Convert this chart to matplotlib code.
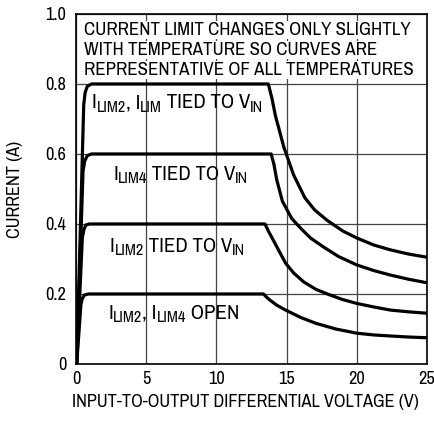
#!/usr/bin/env python3
"""Current limit vs input-to-output differential voltage, four ILIM settings."""

import matplotlib

matplotlib.use("Agg")
import matplotlib.pyplot as plt
from matplotlib.transforms import offset_copy

FONT = ["Archivo Narrow", "Roboto Condensed", "DejaVu Sans"]
plt.rcParams["font.family"] = FONT

FS = 13.2         # axis / tick text size
NOTE_FS = 13.6    # boxed note size
LABEL_FS = 15.0   # curve label size
SUB_FS = 11.6     # subscript size
SUB_DROP = 3.6    # subscript drop, pixels

# --- data (V, A) ---
V_800 = [0.05, 0.55, 0.65, 0.8, 1.1, 13.7, 13.95, 14.2, 14.8, 15.5, 16.3, 17.0,
         17.9, 19.0, 20.0, 21.2, 22.4, 23.7, 25.0]
I_800 = [0.0, 0.74, 0.775, 0.793, 0.8, 0.8, 0.76, 0.71, 0.62, 0.54, 0.475, 0.44,
         0.41, 0.38, 0.36, 0.34, 0.326, 0.314, 0.305]

V_600 = [0.05, 0.5, 0.62, 0.8, 1.1, 13.9, 14.1, 14.3, 14.7, 15.36, 15.95, 16.7,
         17.6, 18.7, 20.0, 21.2, 22.4, 23.7, 25.0]
I_600 = [0.0, 0.55, 0.58, 0.595, 0.6, 0.6, 0.57, 0.526, 0.465, 0.416, 0.39, 0.36,
         0.335, 0.307, 0.283, 0.267, 0.254, 0.242, 0.232]

V_400 = [0.05, 0.45, 0.57, 0.7, 0.95, 13.46, 13.7, 14.05, 14.5, 14.93, 15.5, 16.2,
         17.1, 18.1, 19.0, 20.0, 21.2, 22.4, 23.7, 25.0]
I_400 = [0.0, 0.36, 0.385, 0.397, 0.4, 0.4, 0.38, 0.354, 0.32, 0.288, 0.26, 0.235,
         0.213, 0.197, 0.184, 0.173, 0.163, 0.154, 0.149, 0.145]

V_200 = [0.05, 0.35, 0.45, 0.6, 0.88, 13.35, 13.6, 13.8, 14.3, 14.93, 16.0, 17.1,
         18.5, 20.0, 21.2, 22.4, 23.7, 25.0]
I_200 = [0.0, 0.17, 0.187, 0.197, 0.2, 0.2, 0.19, 0.183, 0.168, 0.154, 0.133, 0.116,
         0.1, 0.088, 0.083, 0.08, 0.077, 0.075]

CURVES = [(V_800, I_800), (V_600, I_600), (V_400, I_400), (V_200, I_200)]

# label pieces: (text, is_subscript)
LABELS = [
    [("I", 0), ("LIM2", 1), (", I", 0), ("LIM", 1), (" TIED TO V", 0), ("IN", 1)],
    [("I", 0), ("LIM4", 1), (" TIED TO V", 0), ("IN", 1)],
    [("I", 0), ("LIM2", 1), (" TIED TO V", 0), ("IN", 1)],
    [("I", 0), ("LIM2", 1), (", I", 0), ("LIM4", 1), (" OPEN", 0)],
]
# left start (V) and baseline (A) of each label
LABEL_POS = [(1.12, 0.731), (2.64, 0.526), (2.42, 0.321), (2.28, 0.129)]

NOTE_LINES = [
    "CURRENT LIMIT CHANGES ONLY SLIGHTLY",
    "WITH TEMPERATURE SO CURVES ARE",
    "REPRESENTATIVE OF ALL TEMPERATURES",
]
NOTE_Y = [0.94, 0.883, 0.826]

X_TICKS = [0, 5, 10, 15, 20, 25]
Y_TICKS = [0, 0.2, 0.4, 0.6, 0.8, 1.0]
Y_TICK_LABELS = ["0", "0.2", "0.4", "0.6", "0.8", "1.0"]


def _width(fig, renderer, s: str, size: float) -> float:
    """Pixel advance of ``s`` including leading/trailing spaces."""
    t1 = fig.text(0, 0, "|" + s + "|", fontsize=size)
    t2 = fig.text(0, 0, "||", fontsize=size)
    w = t1.get_window_extent(renderer).width - t2.get_window_extent(renderer).width
    t1.remove()
    t2.remove()
    return w


def _draw_label(ax, x, y, pieces) -> None:
    fig = ax.figure
    renderer = fig.canvas.get_renderer()
    dx = 0.0
    for s, sub in pieces:
        size = SUB_FS if sub else LABEL_FS
        tr = offset_copy(ax.transData, fig=fig, x=dx, y=-SUB_DROP if sub else 0.0,
                         units="dots")
        ax.text(x, y, s, transform=tr, fontsize=size, ha="left", va="baseline", zorder=4)
        dx += _width(fig, renderer, s, size)


def main() -> None:
    fig = plt.figure(figsize=(4.35, 4.23), dpi=100, facecolor="white")
    ax = fig.add_axes([0.1747, 0.1395, 0.8069, 0.8275])

    ax.set_xlim(0, 25)
    ax.set_ylim(0, 1.0)
    ax.set_xticks(X_TICKS)
    ax.set_yticks(Y_TICKS)
    ax.set_yticklabels(Y_TICK_LABELS)
    ax.tick_params(length=0, labelsize=FS)
    ax.tick_params(axis="x", pad=5)
    ax.tick_params(axis="y", pad=7)
    ax.grid(True, color="#444444", linewidth=0.9)
    ax.set_axisbelow(True)
    for sp in ax.spines.values():
        sp.set_linewidth(1.2)

    for v, i in CURVES:
        ax.plot(v, i, color="black", linewidth=2.3, solid_joinstyle="round",
                solid_capstyle="butt", zorder=3)

    for pieces, (x, y) in zip(LABELS, LABEL_POS):
        _draw_label(ax, x, y, pieces)

    for line, y in zip(NOTE_LINES, NOTE_Y):
        ax.text(0.6, y, line, ha="left", va="baseline", fontsize=NOTE_FS, zorder=4,
                bbox=dict(facecolor="white", edgecolor="none", pad=1.0))

    ax.set_xlabel("INPUT-TO-OUTPUT DIFFERENTIAL VOLTAGE (V)", fontsize=FS)
    ax.xaxis.set_label_coords(0.482, -0.085)
    ax.set_ylabel("CURRENT (A)", fontsize=FS)
    ax.yaxis.set_label_coords(-0.152, 0.5)

    fig.savefig("out.png", dpi=100, facecolor="white")
    plt.close(fig)


if __name__ == "__main__":
    main()
